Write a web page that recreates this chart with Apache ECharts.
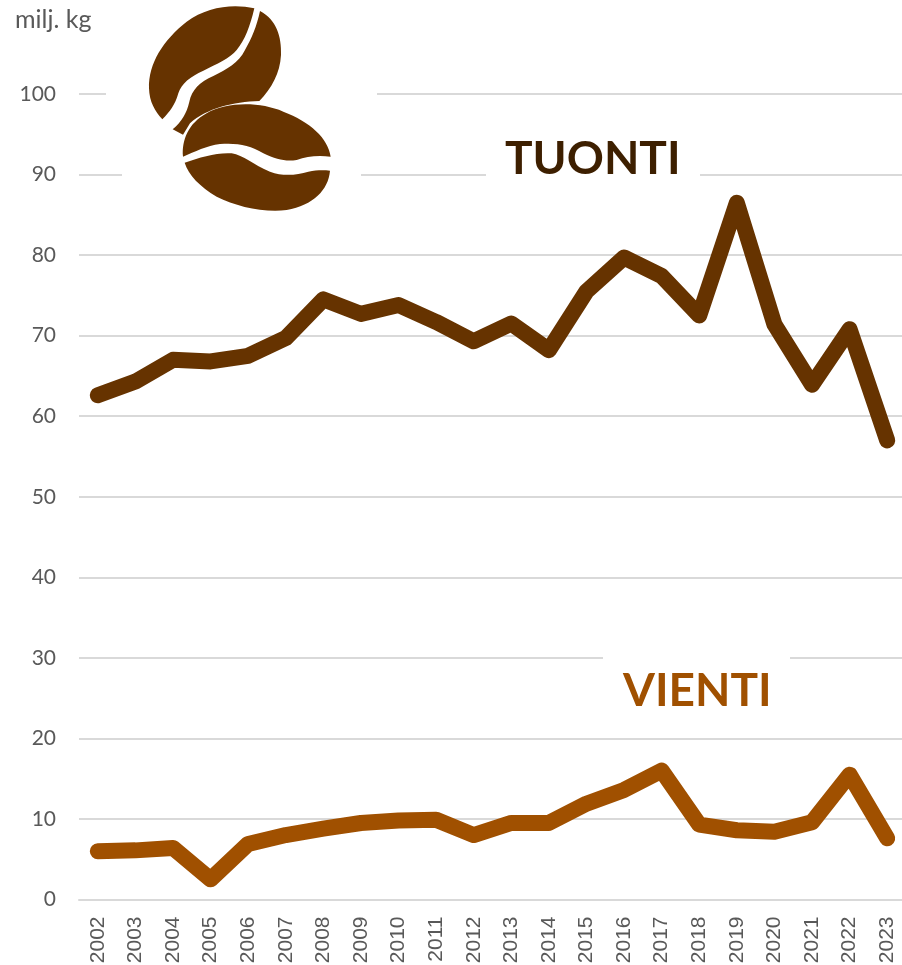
<!DOCTYPE html>
<html><head><meta charset="utf-8">
<style>html,body{margin:0;padding:0;background:#fff;overflow:hidden}#c{width:902px;height:965px}</style>
<script src="https://cdn.jsdelivr.net/npm/echarts@6/dist/echarts.min.js"></script>
</head><body><div id="c"></div>
<script>
const years = ['2002','2003','2004','2005','2006','2007','2008','2009','2010','2011','2012','2013','2014','2015','2016','2017','2018','2019','2020','2021','2022','2023'];
const tuonti = [62.6,64.3,67,66.8,67.5,69.7,74.5,72.7,73.8,71.7,69.3,71.5,68.2,75.5,79.7,77.4,72.5,86.5,71.4,63.9,70.8,57];
const vienti = [6.0,6.1,6.4,2.5,6.9,8.0,8.8,9.5,9.8,9.9,8,9.5,9.5,11.9,13.6,16.0,9.3,8.6,8.4,9.6,15.5,7.6];

const beans = `<svg xmlns="http://www.w3.org/2000/svg" width="400" height="230" viewBox="0 0 1200 690"><g fill="#663300">
<path d="M763,25 C700,10 620,20 560,65 C490,120 445,190 447,265 C448,305 465,335 487,358 C510,335 525,315 535,280 C545,250 570,230 610,212 C650,192 690,175 710,150 C735,120 750,80 763,25 Z"/>
<path d="M780,33 C830,60 845,110 843,165 C840,220 815,265 778,303 C700,305 620,325 570,370 L549,404 L518,388 C545,365 560,340 568,305 C575,270 600,245 640,228 C680,208 715,190 735,150 C755,115 770,80 780,33 Z"/>
<path d="M549,470 C545,420 565,370 620,340 C680,305 780,305 850,335 C930,365 985,415 992,470 C950,465 920,470 890,480 C860,485 830,480 790,460 C750,435 710,428 660,432 C620,437 585,455 549,470 Z"/>
<path d="M554,488 C600,472 650,457 695,460 C730,465 760,495 810,515 C850,530 890,525 925,515 C950,510 970,510 990,512 C985,570 940,615 860,630 C790,638 710,620 650,590 C600,560 565,525 554,488 Z"/>
</g></svg>`;

const mask = (x, y, w) => ({type:'rect', z:5, shape:{x:x, y:y-5, width:w, height:10}, style:{fill:'#fff'}});
const chart = echarts.init(document.getElementById('c'), null, {renderer:'canvas'});
const lineSeries = (name, data, color) => ({
  name, type:'line', data, symbol:'none', smooth:false, clip:false, z:10,
  lineStyle:{color, width:16, cap:'round', join:'round'}
});
chart.setOption({
  animation:false,
  backgroundColor:'#fff',
  grid:{left:79, top:94, width:827, height:805.5, containLabel:false, outerBoundsMode:'none'},
  xAxis:{
    type:'category', data:years, boundaryGap:true,
    axisTick:{show:false},
    axisLine:{lineStyle:{color:'#d9d9d9', width:2}},
    axisLabel:{rotate:90, margin:17, interval:0, fontFamily:'Liberation Sans', fontSize:21, color:'#595959'}
  },
  yAxis:{
    type:'value', min:0, max:100, interval:10,
    axisLine:{show:false}, axisTick:{show:false},
    splitLine:{lineStyle:{color:'#d9d9d9', width:2}},
    axisLabel:{margin:23, fontFamily:'Lato', fontSize:21, color:'#595959'}
  },
  series:[lineSeries('TUONTI', tuonti, '#663300'), lineSeries('VIENTI', vienti, '#A05000')],
  graphic:{elements:[
    mask(106,94,271), mask(122,175,239), mask(486,175,214), mask(603,658,187),
    {type:'image', z:6, x:0, y:0, style:{image:'data:image/svg+xml;charset=utf-8,'+encodeURIComponent(beans), x:0, y:0, width:400, height:230}},
    {type:'text', z:7, x:15, y:7, style:{text:'milj. kg', fontFamily:'Lato', fontSize:25, fill:'#595959'}},
    {type:'text', z:7, x:505, y:136, style:{text:'TUONTI', fontFamily:'Lato', fontWeight:'bold', fontSize:46, fill:'#3D1F00'}},
    {type:'text', z:7, x:623, y:668, style:{text:'VIENTI', fontFamily:'Lato', fontWeight:'bold', fontSize:46, fill:'#A05000'}}
  ]}
});
</script></body></html>
